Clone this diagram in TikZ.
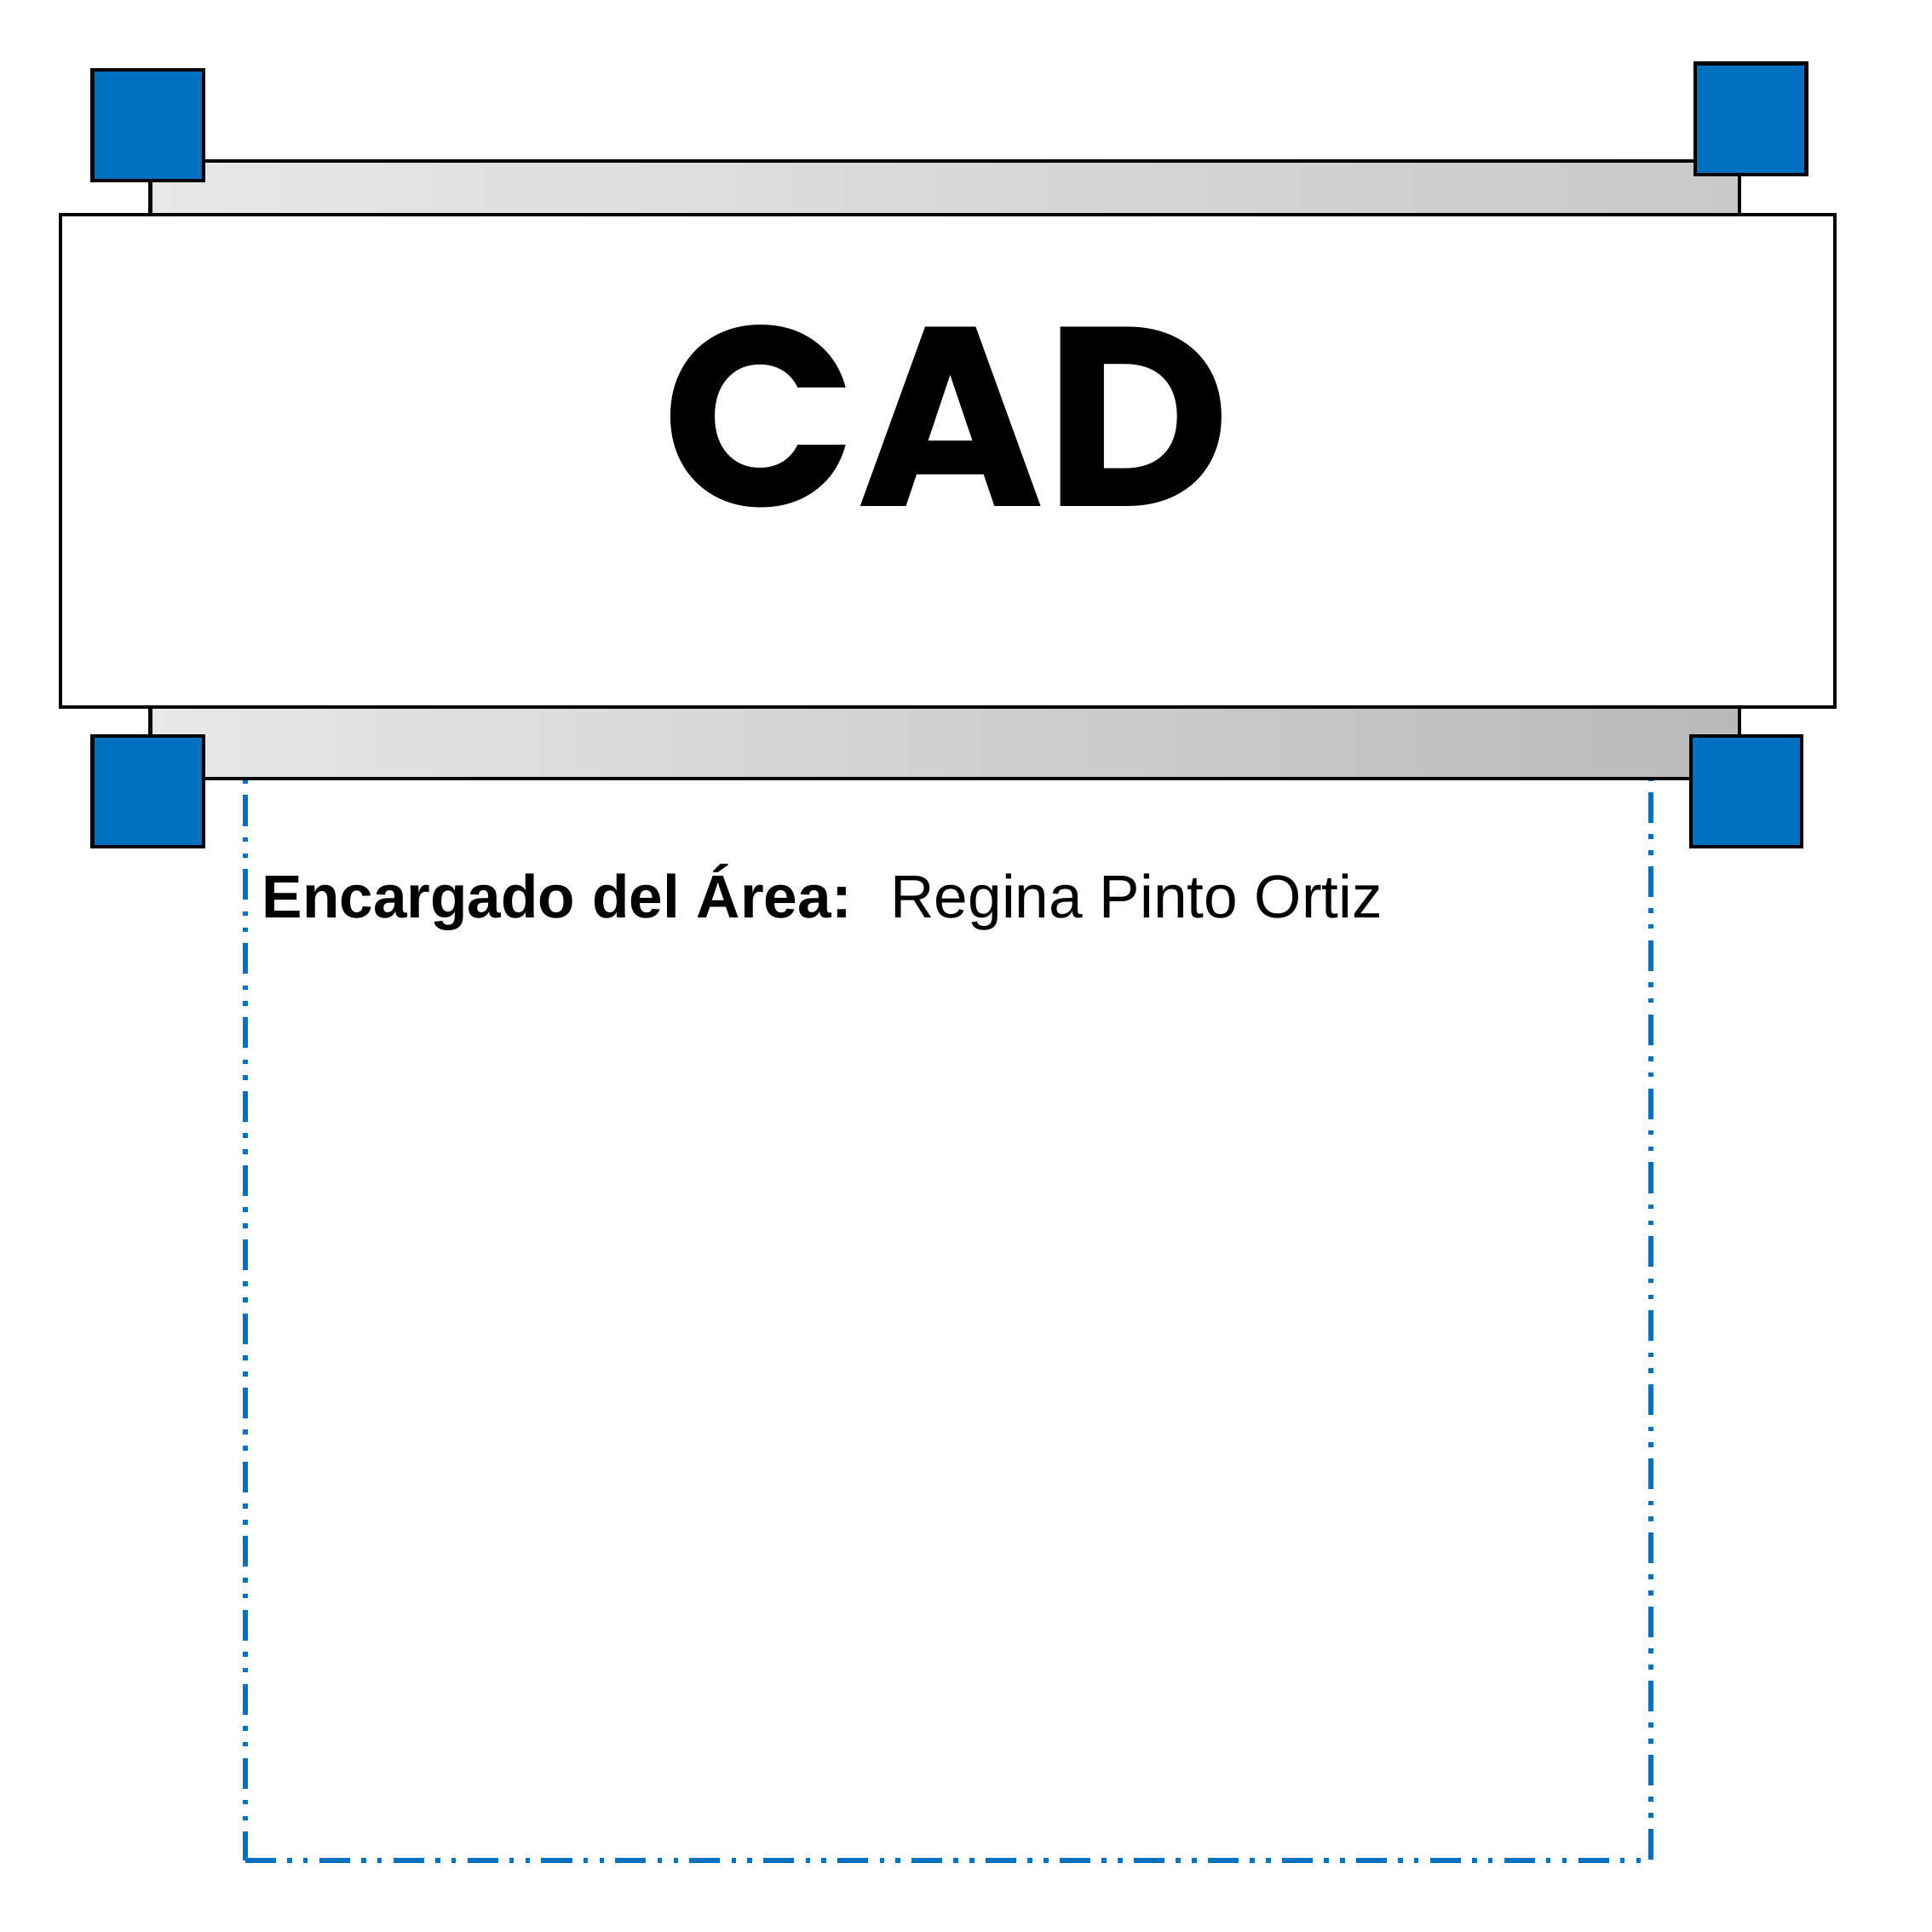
\documentclass[tikz,border=0pt]{standalone}
\usepackage{fontspec}
\setmainfont{Liberation Sans}
\newfontfamily\cadfont{Poppins}
\usetikzlibrary{positioning}
\definecolor{cadblue}{HTML}{0070C0}
\definecolor{barlight}{HTML}{E8E8E8}
\definecolor{bardark}{HTML}{B9B9B9}
\definecolor{barmid}{HTML}{C9C9C9}

\begin{document}
\begin{tikzpicture} [
      bar/.style={draw, line width=0.8pt, rectangle, minimum width=12.9cm, minimum height=0.9cm},
      header/.style={draw, line width=0.8pt, rectangle, fill=white, minimum width=14.4cm, minimum height=4cm},
      handle/.style={draw, line width=0.8pt, rectangle, fill=cadblue, minimum width=0.9cm, minimum height=0.9cm},
      area/.style={draw=cadblue, line width=1.1pt, rectangle, minimum width=11.41cm, minimum height=8.84cm,
        dash pattern=on 7.1pt off 2.6pt on 1.1pt off 2.6pt on 1.1pt off 2.6pt}
   ]
    \useasboundingbox (0,0) rectangle (15.68,-15.68);

    \node[area, anchor=south west] (ndArea) at (1.97,-15.12) {};
    \node[bar, anchor=north, left color=barlight, right color=barmid] (ndBarTop) at (7.67,-1.29) {};
    \node[bar, anchor=south, left color=barlight, right color=bardark] (ndBarBottom) at (7.67,-6.33) {};
    \node[header] (ndHeader) at (7.69,-3.74) {};
    \node[inner sep=0pt, font=\cadfont\fontsize{59}{59}\selectfont\bfseries] (ndTitle) at (7.68,-3.38) {CAD};

    \node[handle] (hTopLeft) at (1.20,-1.015) {};
    \node[handle] (hTopRight) at (14.21,-0.965) {};
    \node[handle] (hBottomLeft) at (1.20,-6.425) {};
    \node[handle] (hBottomRight) at (14.17,-6.425) {};

    \node[anchor=base west, inner sep=0pt, font=\fontsize{14}{17}\selectfont] (ndManager) at (2.12,-7.45) {
      \textbf{Encargado del Área:}\hspace{9pt}Regina Pinto Ortiz
    };

  \end{tikzpicture}
\end{document}
